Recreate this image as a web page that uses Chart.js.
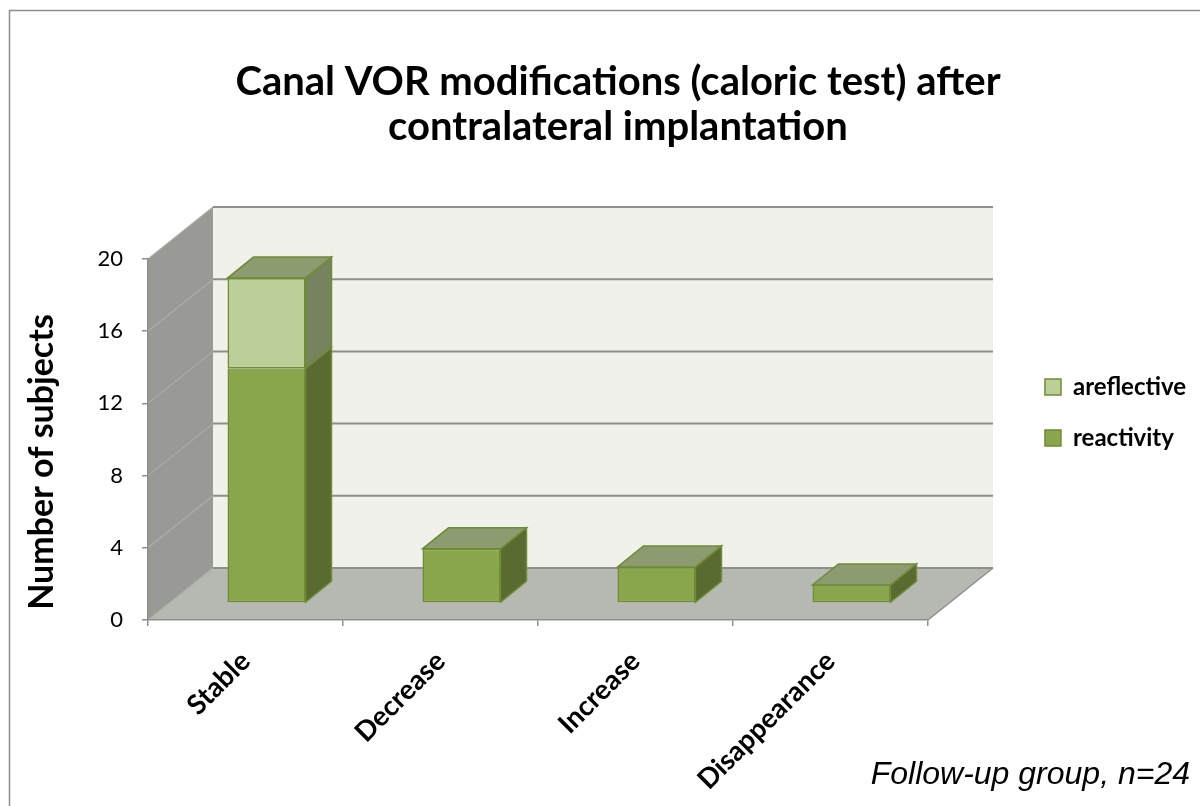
<!DOCTYPE html>
<html>
    <head>
        <meta charset="utf-8">
        <title>Canal VOR modifications</title>
        <script src="https://cdn.jsdelivr.net/npm/chart.js@4/dist/chart.umd.min.js"></script>
        <style>
            body { margin: 0; background: #ffffff; }
            #box { width: 1200px; height: 806px; }
        </style>
    </head>

    <body>
        <div id="box">
            <canvas id="wykres" width="1200" height="806"></canvas>
        </div>

        <script>
            // data
            var kategorie = ["Stable", "Decrease", "Increase", "Disappearance"];
            var reactivity = [13, 3, 2, 1];
            var areflective = [5, 0, 0, 0];
            var yMax = 20;
            var yKrok = 4;
            var przypis = "Follow-up group, n=24";

            // 3D look: depth of the walls and of the bars (pixels)
            var GX = 65, GY = -52;      // whole floor depth
            var PX = 21, PY = -17;      // front face of bars
            var BX = 26, BY = -21;      // bar depth

            var szary = "#8e8e8e";

            function wielokat(ctx, pts, fill, stroke, lw) {
                ctx.beginPath();
                ctx.moveTo(pts[0][0], pts[0][1]);
                for (let i = 1; i < pts.length; i++) ctx.lineTo(pts[i][0], pts[i][1]);
                ctx.closePath();
                if (fill) { ctx.fillStyle = fill; ctx.fill(); }
                if (stroke) { ctx.strokeStyle = stroke; ctx.lineWidth = lw || 1; ctx.stroke(); }
            }

            function linia(ctx, x1, y1, x2, y2, kolor, lw) {
                ctx.beginPath();
                ctx.moveTo(x1, y1);
                ctx.lineTo(x2, y2);
                ctx.strokeStyle = kolor;
                ctx.lineWidth = lw;
                ctx.stroke();
            }

            var sciany = {
                id: "sciany",
                beforeDraw: function (chart) {
                    var ctx = chart.ctx, a = chart.chartArea, y = chart.scales.y;
                    var x0 = a.left, x1 = a.right;
                    var yb = y.getPixelForValue(0), yt = y.getPixelForValue(yMax);
                    ctx.save();
                    // outer frame
                    linia(ctx, 9.5, 10, 9.5, 806, "#8c8c8c", 1.5);
                    linia(ctx, 9, 10.5, 1200, 10.5, "#8c8c8c", 1.5);
                    // side wall, back wall, floor
                    wielokat(ctx, [[x0, yb], [x0, yt], [x0 + GX, yt + GY], [x0 + GX, yb + GY]], "#999a95");
                    wielokat(ctx, [[x0 + GX, yt + GY], [x1 + GX, yt + GY], [x1 + GX, yb + GY], [x0 + GX, yb + GY]], "#eff1ea");
                    wielokat(ctx, [[x0, yb], [x1, yb], [x1 + GX, yb + GY], [x0 + GX, yb + GY]], "#b6b8b2");
                    // grid on the walls
                    for (let v = 0; v <= yMax; v += yKrok) {
                        var py = y.getPixelForValue(v);
                        linia(ctx, x0, py, x0 + GX, py + GY, "#acada9", 1.2);
                        linia(ctx, x0 + GX, py + GY, x1 + GX, py + GY, szary, 2);
                    }
                    linia(ctx, x1, yb, x1 + GX, yb + GY, szary, 1.5);
                    ctx.restore();
                },
                beforeDatasetsDraw: function (chart) {
                    chart.ctx.save();
                    chart.ctx.translate(PX, PY);
                },
                afterDatasetsDraw: function (chart) {
                    var ctx = chart.ctx;
                    chart.data.datasets.forEach(function (ds, i) {
                        var meta = chart.getDatasetMeta(i);
                        meta.data.forEach(function (bar, j) {
                            if (!ds.data[j]) return;
                            var p = bar.getProps(["x", "y", "base", "width"], true);
                            var l = p.x - p.width / 2, r = p.x + p.width / 2;
                            wielokat(ctx, [[r, p.y], [r + BX, p.y + BY], [r + BX, p.base + BY], [r, p.base]], ds.sideColor, ds.borderColor, 1.5);
                            var gora = true;
                            for (let k = i + 1; k < chart.data.datasets.length; k++) {
                                if (chart.data.datasets[k].data[j]) gora = false;
                            }
                            if (gora) {
                                wielokat(ctx, [[l, p.y], [r, p.y], [r + BX, p.y + BY], [l + BX, p.y + BY]], ds.topColor, ds.borderColor, 1.5);
                            }
                        });
                    });
                    ctx.restore();
                },
                afterDraw: function (chart) {
                    var ctx = chart.ctx;
                    ctx.save();
                    ctx.fillStyle = "#000";
                    // y axis title
                    ctx.translate(42, 462);
                    ctx.rotate(-Math.PI / 2);
                    ctx.font = "bold 34px Lato";
                    ctx.textAlign = "center";
                    ctx.textBaseline = "middle";
                    ctx.fillText("Number of subjects", 0, 0);
                    ctx.restore();
                    // footnote
                    ctx.save();
                    ctx.fillStyle = "#000";
                    ctx.font = "italic 32px 'Liberation Sans'";
                    ctx.textAlign = "right";
                    ctx.textBaseline = "middle";
                    ctx.fillText(przypis, 1190, 775);
                    ctx.restore();
                }
            };

            var wykres = new Chart(document.getElementById("wykres").getContext("2d"), {
                type: "bar",
                data: {
                    labels: kategorie,
                    datasets: [{
                        label: "reactivity",
                        data: reactivity,
                        backgroundColor: "#8aa64d",
                        borderColor: "#6f8c35",
                        sideColor: "#596b30",
                        topColor: "#8c9b70",
                        borderWidth: 1.5,
                        borderSkipped: false
                    }, {
                        label: "areflective",
                        data: areflective,
                        backgroundColor: "#bccf99",
                        borderColor: "#6f8c35",
                        sideColor: "#77835e",
                        topColor: "#8c9b70",
                        borderWidth: 1.5,
                        borderSkipped: false
                    }]
                },
                options: {
                    responsive: false,
                    animation: false,
                    devicePixelRatio: 1,
                    clip: false,
                    layout: { padding: { left: 40, right: 4, top: 0, bottom: 0 } },
                    datasets: { bar: { categoryPercentage: 1, barPercentage: 0.4 } },
                    scales: {
                        x: {
                            stacked: true,
                            grid: { drawOnChartArea: false, tickLength: 6, color: szary, lineWidth: 1.5 },
                            border: { color: szary, width: 1.5 },
                            ticks: {
                                color: "#000",
                                font: { family: "Lato", size: 27.5, weight: "bold" },
                                minRotation: 45, maxRotation: 45,
                                autoSkip: false,
                                padding: 19
                            },
                            afterFit: function (s) { s.height = 186; }
                        },
                        y: {
                            stacked: true,
                            min: 0, max: yMax,
                            grid: { drawOnChartArea: false, tickLength: 6, color: szary, lineWidth: 1.5 },
                            border: { color: szary, width: 1.5 },
                            ticks: {
                                stepSize: yKrok,
                                color: "#000",
                                font: { family: "Lato", size: 22 },
                                padding: 19
                            },
                            afterFit: function (s) { s.width = 108; }
                        },
                        odstep: {
                            type: "linear",
                            position: "right",
                            grid: { display: false },
                            border: { display: false },
                            ticks: { display: false },
                            afterFit: function (s) { s.width = 90; }
                        }
                    },
                    plugins: {
                        title: {
                            display: true,
                            text: ["Canal VOR modifications (caloric test) after", "contralateral implantation"],
                            color: "#000",
                            font: { family: "Lato", size: 40, weight: "bold", lineHeight: 1.125 },
                            padding: { top: 59.5, bottom: 109.5 }
                        },
                        legend: {
                            position: "right",
                            align: "start",
                            fullSize: false,
                            reverse: true,
                            title: { display: true, text: " ", font: { size: 10, lineHeight: 1.2 }, padding: { top: 77, bottom: 0 } },
                            labels: {
                                color: "#000",
                                font: { family: "Lato", size: 24, weight: "bold" },
                                boxWidth: 16, boxHeight: 16,
                                padding: 27
                            }
                        },
                        tooltip: { enabled: false }
                    }
                },
                plugins: [sciany]
            });
        </script>
    </body>
</html>
